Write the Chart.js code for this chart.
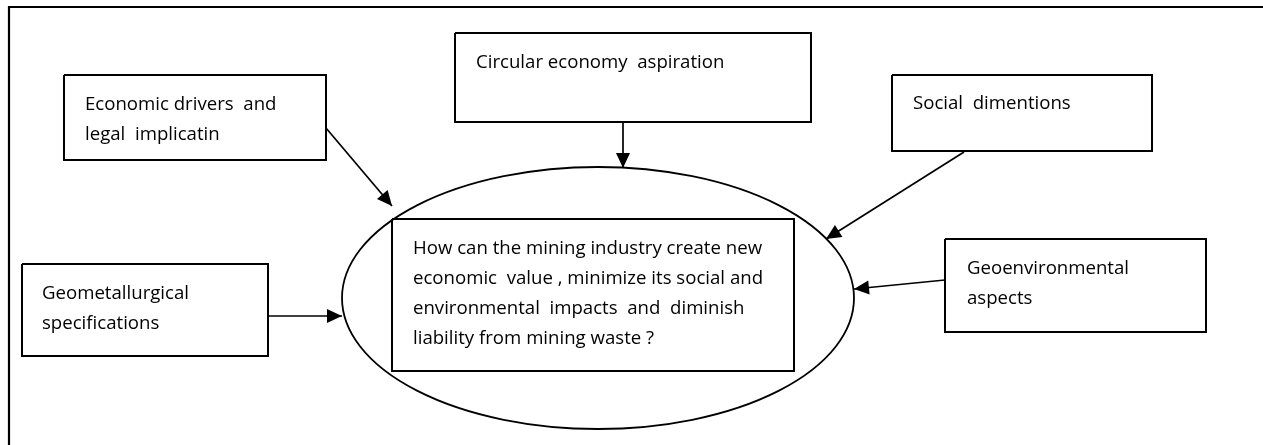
<!DOCTYPE html>
<html>
<head>
<meta charset="utf-8">
<script src="https://cdn.jsdelivr.net/npm/chart.js@4.4.1/dist/chart.umd.min.js"></script>
<style>
  html, body { margin: 0; padding: 0; background: #fff; }
  #wrap { width: 1263px; height: 445px; }
</style>
</head>
<body>
<div id="wrap"><canvas id="diagram" width="1263" height="445"></canvas></div>
<script>
// text of the diagram
const boxTexts = [
  ['Economic drivers  and', 'legal  implicatin'],
  ['Circular economy  aspiration'],
  ['Social  dimentions'],
  ['Geometallurgical', 'specifications'],
  ['Geoenvironmental', 'aspects']
];
const centerText = [
  'How can the mining industry create new',
  'economic  value , minimize its social and',
  'environmental  impacts  and  diminish',
  'liability from mining waste ?'
];

// layout, in scale units (0..1263 x 0..445, y down)
const boxes = [[64, 75, 326, 160], [455, 33, 811, 122], [892, 75, 1152, 151], [22, 264, 268, 356], [945, 239, 1206, 332]];
const textAt = [[85, 105], [476, 63], [913, 104], [42, 294], [967, 269]];
const innerBox = [392, 219, 794, 371];
const centerAt = [413, 249];
const ellipse = { cx: 598, cy: 298, rx: 256, ry: 131 };
const arrows = [[326, 128, 392, 206], [623, 122, 623, 168], [964, 152, 826, 239], [268, 316, 342, 316], [945, 280, 854, 289]];
const frame = [[9, 445], [9, 7], [1263, 7]];

const LINE_GAP = 30;
const FONT = '"Open Sans"';
const INK = '#000';

function rectPoints(b) {
  return [{x: b[0], y: b[1]}, {x: b[2], y: b[1]}, {x: b[2], y: b[3]}, {x: b[0], y: b[3]}, {x: b[0], y: b[1]}];
}
function lineSet(data, w) {
  return { data, showLine: true, pointRadius: 0, borderColor: INK, borderWidth: w, tension: 0, fill: false };
}

const datasets = [lineSet(frame.map(p => ({x: p[0], y: p[1]})), 2.2)];
boxes.forEach(b => datasets.push(lineSet(rectPoints(b), 2)));
datasets.push(lineSet(rectPoints(innerBox), 2));
arrows.forEach(a => datasets.push(lineSet([{x: a[0], y: a[1]}, {x: a[2], y: a[3]}], 1.7)));

const shapes = {
  id: 'shapes',
  afterDatasetsDraw(chart) {
    const ctx = chart.ctx;
    const sx = chart.scales.x, sy = chart.scales.y;
    const X = v => sx.getPixelForValue(v), Y = v => sy.getPixelForValue(v);
    ctx.save();
    // ellipse
    ctx.strokeStyle = INK;
    ctx.lineWidth = 1.8;
    ctx.beginPath();
    ctx.ellipse(X(ellipse.cx), Y(ellipse.cy), X(ellipse.cx + ellipse.rx) - X(ellipse.cx),
      Y(ellipse.cy + ellipse.ry) - Y(ellipse.cy), 0, 0, Math.PI * 2);
    ctx.stroke();
    // arrow heads
    ctx.fillStyle = INK;
    arrows.forEach(a => {
      const x1 = X(a[2]), y1 = Y(a[3]);
      const ang = Math.atan2(y1 - Y(a[1]), x1 - X(a[0]));
      const len = 15, half = 7;
      const bx = x1 - len * Math.cos(ang), by = y1 - len * Math.sin(ang);
      ctx.beginPath();
      ctx.moveTo(x1, y1);
      ctx.lineTo(bx + half * Math.sin(ang), by - half * Math.cos(ang));
      ctx.lineTo(bx - half * Math.sin(ang), by + half * Math.cos(ang));
      ctx.closePath();
      ctx.fill();
    });
    // text, sized so the first question line spans its width in the reference
    ctx.font = '100px ' + FONT;
    const size = 100 * 349 / ctx.measureText(centerText[0]).width;
    ctx.font = size.toFixed(2) + 'px ' + FONT;
    ctx.textBaseline = 'middle';
    ctx.textAlign = 'left';
    boxTexts.forEach((lines, i) => {
      lines.forEach((t, j) => ctx.fillText(t, X(textAt[i][0]), Y(textAt[i][1] + j * LINE_GAP)));
    });
    centerText.forEach((t, j) => ctx.fillText(t, X(centerAt[0]), Y(centerAt[1] + j * LINE_GAP)));
    ctx.restore();
  }
};

new Chart(document.getElementById('diagram'), {
  type: 'scatter',
  data: { datasets },
  options: {
    responsive: false,
    animation: false,
    layout: { padding: 0 },
    plugins: { legend: { display: false }, tooltip: { enabled: false } },
    scales: {
      x: { type: 'linear', min: 0, max: 1263, display: false },
      y: { type: 'linear', min: 0, max: 445, reverse: true, display: false }
    }
  },
  plugins: [shapes]
});
</script>
</body>
</html>
